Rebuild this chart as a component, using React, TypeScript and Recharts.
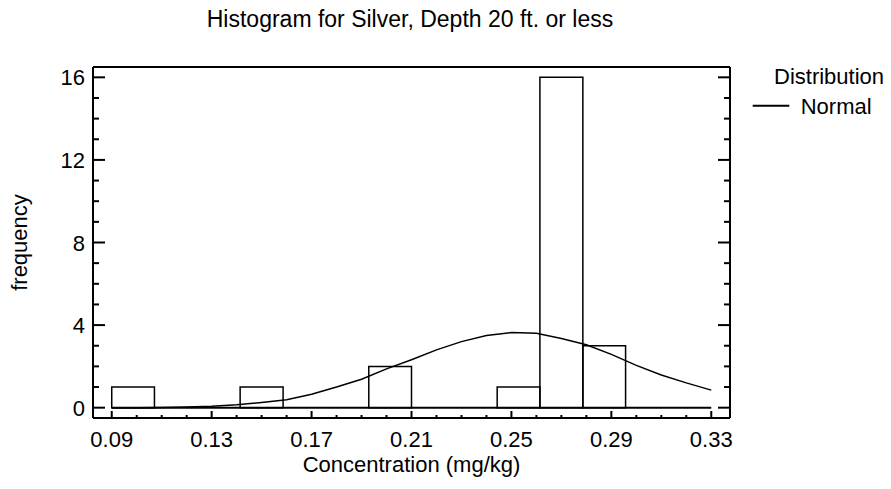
import React from "react";
import { ComposedChart, Line, XAxis, YAxis, ReferenceArea, ReferenceLine } from "recharts";

// histogram classes (lower/upper limits) and counts
const binEdges = [0.09, 0.1071, 0.1243, 0.1414, 0.1586, 0.1757, 0.1929, 0.21, 0.2271, 0.2443, 0.2614, 0.2786, 0.2957, 0.3129, 0.33];
const binCounts = [1, 0, 0, 1, 0, 0, 2, 0, 0, 1, 16, 3, 0, 0];

// fitted normal curve
const normalX = [0.09, 0.1, 0.11, 0.12, 0.13, 0.14, 0.15, 0.16, 0.17, 0.18, 0.19, 0.2, 0.21, 0.22, 0.23, 0.24, 0.25, 0.26, 0.27, 0.28, 0.29, 0.3, 0.31, 0.32, 0.33];
const normalY = [0, 0, 0.01, 0.03, 0.07, 0.14, 0.25, 0.38, 0.65, 1.0, 1.38, 1.88, 2.32, 2.8, 3.2, 3.5, 3.64, 3.6, 3.35, 3.05, 2.58, 2.05, 1.58, 1.2, 0.85];

const xTicks = [0.09, 0.1, 0.11, 0.12, 0.13, 0.14, 0.15, 0.16, 0.17, 0.18, 0.19, 0.2, 0.21, 0.22, 0.23, 0.24, 0.25, 0.26, 0.27, 0.28, 0.29, 0.3, 0.31, 0.32, 0.33];
const xMajor = [0.09, 0.13, 0.17, 0.21, 0.25, 0.29, 0.33];
const yTicks = [0, 1, 2, 3, 4, 5, 6, 7, 8, 9, 10, 11, 12, 13, 14, 15, 16];
const yMajor = [0, 4, 8, 12, 16];

const FONT = "'Liberation Sans', Arial, Helvetica, sans-serif";
const isMajor = (list: number[], v: number) => list.some((m) => Math.abs(m - v) < 1e-6);

const curve = normalX.map((x, i) => ({ x, y: normalY[i] }));

function BottomTick(props: any) {
  const { x, y, payload } = props;
  const major = isMajor(xMajor, payload.value);
  return (
    <g>
      <line x1={x} y1={y} x2={x} y2={y - (major ? 7 : 3)} stroke="#000" strokeWidth={2} />
      {major && (
        <text x={x} y={y + 29} textAnchor="middle" fontSize={22} fontFamily={FONT} fill="#000">
          {payload.value.toFixed(2)}
        </text>
      )}
    </g>
  );
}

function TopTick(props: any) {
  const { x, y, payload } = props;
  const major = isMajor(xMajor, payload.value);
  return <line x1={x} y1={y} x2={x} y2={y + (major ? 7 : 3)} stroke="#000" strokeWidth={2} />;
}

function LeftTick(props: any) {
  const { x, y, payload } = props;
  const major = isMajor(yMajor, payload.value);
  return (
    <g>
      <line x1={x} y1={y} x2={x + (major ? 12 : 6)} y2={y} stroke="#000" strokeWidth={2} />
      {major && (
        <text x={x - 8} y={y + 8} textAnchor="end" fontSize={22} fontFamily={FONT} fill="#000">
          {payload.value}
        </text>
      )}
    </g>
  );
}

function RightTick(props: any) {
  const { x, y, payload } = props;
  const major = isMajor(yMajor, payload.value);
  return <line x1={x} y1={y} x2={x - (major ? 12 : 6)} y2={y} stroke="#000" strokeWidth={2} />;
}

export default function App() {
  const axisLine = { stroke: "#000", strokeWidth: 2 };
  return (
    <div style={{ position: "absolute", left: 0, top: 0, width: 891, height: 489, background: "#fff" }}>
      <ComposedChart width={891} height={489} margin={{ top: 57, right: 151, bottom: 11, left: 33 }}>
        <XAxis
          dataKey="x"
          type="number"
          domain={[0.0825, 0.3375]}
          allowDataOverflow
          ticks={xTicks}
          interval={0}
          height={60}
          tickSize={0}
          tickMargin={0}
          tickLine={false}
          axisLine={axisLine}
          tick={BottomTick}
        />
        <XAxis
          xAxisId="top"
          orientation="top"
          type="number"
          domain={[0.0825, 0.3375]}
          allowDataOverflow
          ticks={xTicks}
          interval={0}
          height={10}
          tickSize={0}
          tickMargin={0}
          tickLine={false}
          axisLine={axisLine}
          tick={TopTick}
        />
        <YAxis
          type="number"
          domain={[-0.5, 16.5]}
          allowDataOverflow
          ticks={yTicks}
          interval={0}
          width={60}
          tickSize={0}
          tickMargin={0}
          tickLine={false}
          axisLine={axisLine}
          tick={LeftTick}
        />
        <YAxis
          yAxisId="right"
          orientation="right"
          type="number"
          domain={[-0.5, 16.5]}
          allowDataOverflow
          ticks={yTicks}
          interval={0}
          width={10}
          tickSize={0}
          tickMargin={0}
          tickLine={false}
          axisLine={axisLine}
          tick={RightTick}
        />
        {binCounts.map((c, i) =>
          c > 0 ? (
            <ReferenceArea
              key={i}
              x1={binEdges[i]}
              x2={binEdges[i + 1]}
              y1={0}
              y2={c}
              fill="none"
              stroke="#000"
              strokeWidth={1.5}
              ifOverflow="visible"
            />
          ) : null
        )}
        <ReferenceLine
          segment={[
            { x: binEdges[0], y: 0 },
            { x: binEdges[binEdges.length - 1], y: 0 },
          ]}
          stroke="#000"
          strokeWidth={2}
        />
        <Line
          data={curve}
          dataKey="y"
          type="linear"
          stroke="#000"
          strokeWidth={1.5}
          dot={false}
          isAnimationActive={false}
        />
      </ComposedChart>
      <svg
        width={891}
        height={489}
        style={{ position: "absolute", left: 0, top: 0, pointerEvents: "none" }}
        fontFamily={FONT}
        fill="#000"
      >
        <text x={410} y={26.5} textAnchor="middle" fontSize={23}>
          Histogram for Silver, Depth 20 ft. or less
        </text>
        <text x={411.5} y={471.5} textAnchor="middle" fontSize={22}>
          Concentration (mg/kg)
        </text>
        <text x={27} y={242.5} textAnchor="middle" fontSize={22} transform="rotate(-90 27 242.5)">
          frequency
        </text>
        <text x={774} y={84.3} fontSize={22}>
          Distribution
        </text>
        <line x1={752.7} y1={105.7} x2={789.3} y2={105.7} stroke="#000" strokeWidth={2} />
        <text x={800.7} y={114.3} fontSize={22}>
          Normal
        </text>
      </svg>
    </div>
  );
}
